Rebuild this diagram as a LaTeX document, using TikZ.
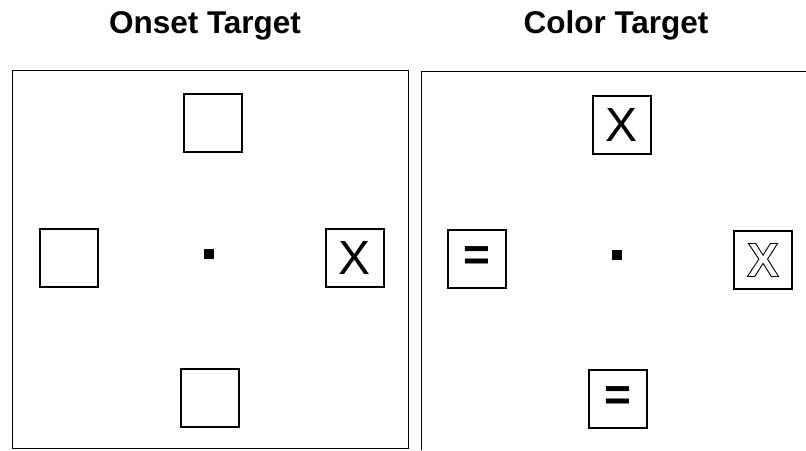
\documentclass[tikz,border=0pt]{standalone}
\usepackage{fontspec}
\setmainfont{Liberation Sans}

% Outlined (stroked) letter
\newcommand{\hollow}[1]{\special{pdf:literal direct 1 Tr 0.9 w}#1\special{pdf:literal direct 0 Tr}}

\begin{document}
\begin{tikzpicture}[x=1pt, y=-1pt,
    title/.style={font=\fontsize{31.5}{36}\selectfont\bfseries, anchor=base},
    cue/.style={draw, line width=1.2pt, minimum size=58pt, inner sep=0pt,
        font=\fontsize{48}{48}\selectfont},
    eqcue/.style={cue, font=\fontsize{46}{46}\selectfont\bfseries},
    fixdot/.style={fill, minimum size=10pt, inner sep=0pt}]
    % Page size of the figure
    \useasboundingbox (0,0) rectangle (806,450);

    % Define the panel corners
    \coordinate (onsetNW) at (12,70);
    \coordinate (onsetSE) at (408,448);
    \coordinate (colorNW) at (421,71);

    % Titles
    \node[title] (onsetTitle) at (205,33) {Onset Target};
    \node[title] (colorTitle) at (616,33) {Color Target};

    % Draw the two panels
    \draw[line width=1pt] (onsetNW) rectangle (onsetSE);
    \draw[line width=1pt] (806,71) -- (colorNW) -- (421,450);

    % Onset target display
    \node[fixdot] (onsetDot) at (209,254) {};
    \node[cue] (onsetTop) at (213,123) {};
    \node[cue] (onsetLeft) at (69,258) {};
    \node[cue] (onsetRight) at (355,258) {X};
    \node[cue] (onsetBottom) at (210,398) {};

    % Color target display
    \node[fixdot] (colorDot) at (617,255) {};
    \node[cue] (colorTop) at (622,125) {X};
    \node[eqcue] (colorLeft) at (477,259) {=};
    \node[cue] (colorRight) at (763,260) {\bfseries\hollow{X}};
    \node[eqcue] (colorBottom) at (618,399) {=};

\end{tikzpicture}
\end{document}
